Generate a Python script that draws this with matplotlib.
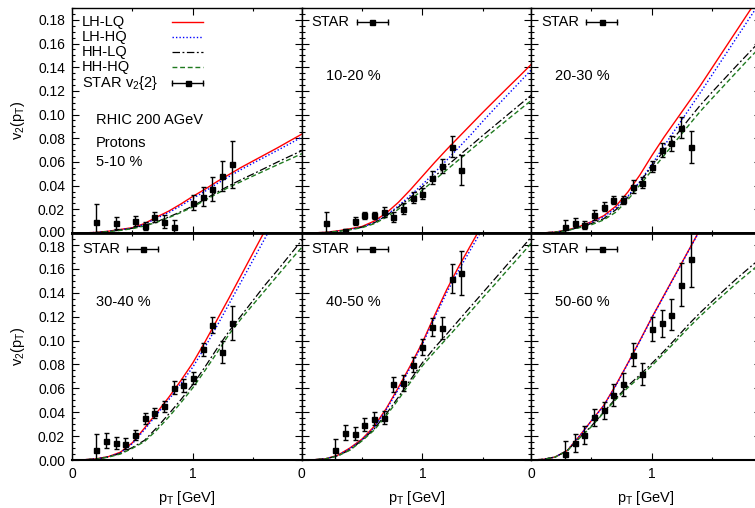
import numpy as np
import matplotlib.pyplot as plt
import matplotlib.transforms as mtransforms

plt.rcParams['font.family'] = ['Liberation Sans', 'DejaVu Sans']
plt.rcParams['font.size'] = 10.5
plt.rcParams['xtick.labelsize'] = 10
plt.rcParams['ytick.labelsize'] = 10
plt.rcParams['mathtext.default'] = 'regular'

# hydro curves, p_T grid [GeV]
pt = [0.0, 0.1, 0.2, 0.3, 0.4, 0.5, 0.6, 0.7, 0.8, 0.9,
      1.0, 1.1, 1.2, 1.3, 1.4, 1.5, 1.6, 1.7, 1.8, 1.9]

# 5-10 %
lhlq_1 = [0, 0.0001, 0.0005, 0.0015, 0.003, 0.0045, 0.008, 0.0135, 0.0185, 0.0245,
          0.031, 0.037, 0.0435, 0.0495, 0.0555, 0.061, 0.0665, 0.072, 0.0778, 0.0835]
lhhq_1 = [0, 0.0001, 0.0005, 0.0014, 0.0028, 0.0042, 0.0074, 0.0125, 0.0173, 0.023,
          0.0293, 0.0353, 0.0418, 0.0478, 0.0537, 0.0592, 0.0645, 0.0699, 0.0754, 0.081]
hhlq_1 = [0, 0.0001, 0.0004, 0.0012, 0.0024, 0.004, 0.0065, 0.0095, 0.0135, 0.018,
          0.0228, 0.0287, 0.0345, 0.040, 0.0452, 0.050, 0.055, 0.060, 0.0648, 0.0695]
hhhq_1 = [0, 0.0001, 0.0004, 0.0011, 0.0022, 0.0037, 0.006, 0.009, 0.013, 0.0173,
          0.022, 0.0278, 0.0333, 0.0388, 0.0435, 0.0483, 0.053, 0.0577, 0.0623, 0.067]
# 10-20 %
lhlq_2 = [0, 0.0001, 0.0006, 0.0018, 0.0035, 0.0055, 0.010, 0.0168, 0.0258, 0.0365,
          0.048, 0.0595, 0.0705, 0.081, 0.0915, 0.102, 0.1122, 0.1223, 0.1323, 0.1425]
lhhq_2 = [0, 0.0001, 0.0005, 0.0015, 0.003, 0.0048, 0.0088, 0.015, 0.0228, 0.0317,
          0.041, 0.051, 0.0615, 0.0722, 0.083, 0.0945, 0.1055, 0.1163, 0.127, 0.1378]
hhlq_2 = [0, 0.0001, 0.0005, 0.0014, 0.003, 0.005, 0.0085, 0.0145, 0.0218, 0.030,
          0.039, 0.0478, 0.0565, 0.0652, 0.0738, 0.0825, 0.091, 0.0995, 0.108, 0.1165]
hhhq_2 = [0, 0.0001, 0.0005, 0.0013, 0.0027, 0.0045, 0.0078, 0.0132, 0.020, 0.028,
          0.0363, 0.0448, 0.0533, 0.0618, 0.0703, 0.0788, 0.0872, 0.0955, 0.1038, 0.112]
# 20-30 %
lhlq_3 = [0, 0.0001, 0.0008, 0.0025, 0.0055, 0.0095, 0.0145, 0.0225, 0.0345, 0.049,
          0.0655, 0.081, 0.0955, 0.110, 0.1245, 0.140, 0.1555, 0.171, 0.1865, 0.202]
lhhq_3 = [0, 0.0001, 0.0007, 0.0023, 0.005, 0.009, 0.0135, 0.021, 0.031, 0.0435,
          0.058, 0.0735, 0.0885, 0.1035, 0.1185, 0.134, 0.1495, 0.165, 0.1805, 0.196]
hhlq_3 = [0, 0.0001, 0.0007, 0.0022, 0.0048, 0.008, 0.012, 0.0195, 0.030, 0.043,
          0.0565, 0.0697, 0.0826, 0.0955, 0.108, 0.1193, 0.1303, 0.1413, 0.152, 0.1628]
hhhq_3 = [0, 0.0001, 0.0007, 0.0021, 0.0045, 0.007, 0.011, 0.0175, 0.028, 0.0405,
          0.053, 0.0655, 0.078, 0.0905, 0.1028, 0.114, 0.125, 0.136, 0.147, 0.1575]
# 30-40 %
lhlq_4 = [0, 0.0002, 0.001, 0.0028, 0.0065, 0.0145, 0.0268, 0.0395, 0.0525, 0.0665,
          0.0815, 0.099, 0.1175, 0.136, 0.155, 0.174, 0.193]
lhhq_4 = [0, 0.0002, 0.001, 0.0027, 0.006, 0.0138, 0.0255, 0.038, 0.0505, 0.064,
          0.078, 0.0945, 0.1125, 0.131, 0.1495, 0.168, 0.1865, 0.205]
hhlq_4 = [0, 0.0002, 0.0008, 0.0025, 0.0055, 0.0105, 0.0165, 0.027, 0.0385, 0.0505,
          0.0633, 0.078, 0.0935, 0.108, 0.121, 0.134, 0.147, 0.159, 0.1715, 0.184]
hhhq_4 = [0, 0.0002, 0.0008, 0.0024, 0.005, 0.0098, 0.0155, 0.025, 0.036, 0.048,
          0.0606, 0.075, 0.090, 0.1055, 0.1185, 0.1305, 0.1425, 0.1545, 0.1665, 0.178]
# 40-50 %
lhlq_5 = [0, 0.0002, 0.001, 0.004, 0.010, 0.0175, 0.028, 0.043, 0.0605, 0.079,
          0.0985, 0.121, 0.1425, 0.162, 0.180, 0.198]
lhhq_5 = [0, 0.0002, 0.001, 0.0038, 0.0095, 0.017, 0.027, 0.042, 0.059, 0.0775,
          0.097, 0.119, 0.140, 0.159, 0.1765, 0.194]
hhlq_5 = [0, 0.0002, 0.001, 0.0035, 0.0085, 0.0165, 0.026, 0.0385, 0.0525, 0.067,
          0.0815, 0.094, 0.1053, 0.117, 0.1286, 0.1402, 0.1518, 0.1635, 0.175, 0.1867]
hhhq_5 = [0, 0.0002, 0.001, 0.0034, 0.0082, 0.016, 0.025, 0.037, 0.0505, 0.065,
          0.079, 0.0905, 0.1017, 0.113, 0.1245, 0.136, 0.1472, 0.1587, 0.170, 0.1815]
# 50-60 %
lhlq_6 = [0, 0.0005, 0.0025, 0.008, 0.020, 0.033, 0.0455, 0.0625, 0.081, 0.100,
          0.1195, 0.138, 0.1565, 0.175, 0.1935]
lhhq_6 = [0, 0.0005, 0.0025, 0.008, 0.0198, 0.0328, 0.0452, 0.062, 0.0805, 0.0995,
          0.119, 0.1375, 0.156, 0.1745, 0.193]
hhlq_6 = [0, 0.0005, 0.0025, 0.0078, 0.0185, 0.0285, 0.040, 0.0515, 0.062, 0.0712,
          0.081, 0.0912, 0.102, 0.1132, 0.1235, 0.133, 0.1425, 0.1518, 0.1605, 0.169]
hhhq_6 = [0, 0.0005, 0.0025, 0.0077, 0.0182, 0.028, 0.0395, 0.0505, 0.0605, 0.0695,
          0.079, 0.0893, 0.0998, 0.1105, 0.1205, 0.130, 0.139, 0.148, 0.1565, 0.165]

# STAR v2{2} protons
star_pt_1 = [0.20, 0.36, 0.52, 0.60, 0.68, 0.76, 0.84, 1.00, 1.08, 1.16, 1.24, 1.32]
star_v2_1 = [0.0096, 0.0082, 0.0104, 0.0059, 0.0135, 0.0096, 0.0053, 0.0256, 0.0307, 0.0372, 0.0484, 0.058]
star_er_1 = [0.015, 0.005, 0.0042, 0.0035, 0.004, 0.0055, 0.0056, 0.0063, 0.0079, 0.0099, 0.0127, 0.020]

star_pt_2 = [0.20, 0.36, 0.44, 0.52, 0.60, 0.68, 0.76, 0.84, 0.92, 1.00, 1.08, 1.16, 1.24, 1.32]
star_v2_2 = [0.0082, 0.0017, 0.0104, 0.0149, 0.0149, 0.0177, 0.0138, 0.0206, 0.0299, 0.033, 0.0468, 0.0566, 0.0729, 0.0535]
star_er_2 = [0.0095, 0.002, 0.0035, 0.0028, 0.0028, 0.004, 0.0042, 0.0049, 0.0049, 0.0046, 0.0053, 0.0062, 0.0087, 0.0127]

star_pt_3 = [0.28, 0.36, 0.44, 0.52, 0.60, 0.68, 0.76, 0.84, 0.92, 1.00, 1.08, 1.16, 1.24, 1.32]
star_v2_3 = [0.0051, 0.0087, 0.0068, 0.0152, 0.0222, 0.0279, 0.0279, 0.0391, 0.0425, 0.056, 0.0701, 0.0758, 0.089, 0.0729]
star_er_3 = [0.006, 0.004, 0.0035, 0.004, 0.0037, 0.0037, 0.0037, 0.0054, 0.0047, 0.0048, 0.0056, 0.0062, 0.0087, 0.0135]

star_pt_4 = [0.20, 0.28, 0.36, 0.44, 0.52, 0.60, 0.68, 0.76, 0.84, 0.92, 1.00, 1.08, 1.16, 1.24, 1.32]
star_v2_4 = [0.0087, 0.0163, 0.0143, 0.0137, 0.0213, 0.0348, 0.0392, 0.0448, 0.0606, 0.0625, 0.0684, 0.0925, 0.113, 0.0903, 0.1144]
star_er_4 = [0.013, 0.006, 0.0049, 0.0045, 0.0042, 0.0045, 0.004, 0.0045, 0.0053, 0.0052, 0.0049, 0.0056, 0.007, 0.0095, 0.0143]

star_pt_5 = [0.28, 0.36, 0.44, 0.52, 0.60, 0.68, 0.76, 0.84, 0.92, 1.00, 1.08, 1.16, 1.24, 1.32]
star_v2_5 = [0.0087, 0.023, 0.0221, 0.0297, 0.0347, 0.0353, 0.0633, 0.0645, 0.0796, 0.0945, 0.1113, 0.1104, 0.1517, 0.1567]
star_er_5 = [0.0087, 0.0063, 0.0056, 0.0053, 0.0052, 0.0053, 0.0063, 0.0066, 0.0062, 0.0066, 0.0076, 0.0092, 0.0122, 0.0182]

star_pt_6 = [0.28, 0.36, 0.44, 0.52, 0.60, 0.68, 0.76, 0.84, 0.92, 1.00, 1.08, 1.16, 1.24, 1.32]
star_v2_6 = [0.0053, 0.0143, 0.021, 0.0356, 0.0415, 0.0544, 0.0633, 0.0883, 0.0718, 0.1096, 0.1144, 0.1214, 0.1466, 0.1685]
star_er_6 = [0.011, 0.0077, 0.0074, 0.0073, 0.0069, 0.0088, 0.0095, 0.0098, 0.0094, 0.0098, 0.0112, 0.013, 0.018, 0.024]

centralities = ['5-10 %', '10-20 %', '20-30 %', '30-40 %', '40-50 %', '50-60 %']
model_names = ['LH-LQ', 'LH-HQ', 'HH-LQ', 'HH-HQ']

models = [
    [lhlq_1, lhhq_1, hhlq_1, hhhq_1],
    [lhlq_2, lhhq_2, hhlq_2, hhhq_2],
    [lhlq_3, lhhq_3, hhlq_3, hhhq_3],
    [lhlq_4, lhhq_4, hhlq_4, hhhq_4],
    [lhlq_5, lhhq_5, hhlq_5, hhhq_5],
    [lhlq_6, lhhq_6, hhlq_6, hhhq_6],
]
star = [
    (star_pt_1, star_v2_1, star_er_1),
    (star_pt_2, star_v2_2, star_er_2),
    (star_pt_3, star_v2_3, star_er_3),
    (star_pt_4, star_v2_4, star_er_4),
    (star_pt_5, star_v2_5, star_er_5),
    (star_pt_6, star_v2_6, star_er_6),
]

styles = [
    dict(color='#ff0000', ls='-', lw=1.0),
    dict(color='#0000ff', ls=(0, (1, 1.5)), lw=1.0),
    dict(color='black', ls=(0, (6, 2, 1.5, 2)), lw=0.9),
    dict(color='#1f7a1f', ls=(0, (3.5, 2)), lw=1.0),
]

W, H = 755, 508
fig = plt.figure(figsize=(W / 100, H / 100), dpi=100)

col_x = [72, 301.5, 531]
rows = [(275, 225), (48, 227)]
pw = 229.5

axes = []
for r, (b, h) in enumerate(rows):
    for c, x in enumerate(col_x):
        ax = fig.add_axes([x / W, b / H, pw / W, h / H])
        axes.append(ax)


def star_key(ax, y, text):
    ax.text(0.044, y, text, transform=ax.transAxes, va='center', ha='left')
    ax.plot([0.24, 0.376], [y, y], color='black', lw=1.0, marker='|', ms=5,
            transform=ax.transAxes, clip_on=False)
    ax.plot([0.308], [y], 's', color='black', ms=3.6, transform=ax.transAxes)


for i, ax in enumerate(axes):
    top = i < 3
    left = i % 3 == 0

    for vals, st in zip(models[i], styles):
        ax.plot(pt[:len(vals)], vals, **st)

    spt, sv2, ser = star[i]
    ax.errorbar(spt, sv2, yerr=ser, fmt='s', color='black', ms=3.6,
                elinewidth=1.0, capsize=1.8, capthick=1.0, zorder=5)

    ax.set_xlim(0, 1.897)
    ax.set_ylim(0, 0.19)
    ax.set_xticks([0, 1])
    ax.set_xticks([0.5, 1.5], minor=True)
    ax.set_yticks(np.arange(10) * 0.02)
    ax.set_yticks(np.arange(39) * 0.005, minor=True)
    ax.tick_params(which='both', direction='in', top=True, right=True, width=0.8)
    ax.tick_params(which='major', length=5, pad=5)
    ax.tick_params(which='minor', length=2.5)
    for s in ax.spines.values():
        s.set_linewidth(1.0)

    if left:
        ax.set_yticklabels(['%.2f' % v for v in np.arange(10) * 0.02])
        ax.set_ylabel('v$_2$(p$_T$)', labelpad=8)
        # keep 0.00 (upper row) and 0.18 (lower row) apart at the seam
        labs = ax.get_yticklabels()
        if top:
            lab, dy = labs[0], 1.8
        else:
            lab, dy = labs[-1], -1.8
        lab.set_transform(lab.get_transform() +
                          mtransforms.ScaledTranslation(0, dy / 100, fig.dpi_scale_trans))
    else:
        ax.set_yticklabels([])
    if top:
        ax.set_xticklabels([])
        ax.spines['bottom'].set_linewidth(2.0)
    else:
        ax.set_xticklabels(['0', '1'])
        ax.set_xlabel('p$_T$ [GeV]', labelpad=6)
        ax.spines['top'].set_linewidth(2.0)
        ax.spines['bottom'].set_linewidth(1.5)

    if i == 0:
        ys = [0.938, 0.870, 0.803, 0.736]
        for y, name, st in zip(ys, model_names, styles):
            ax.text(0.044, y, name, transform=ax.transAxes, va='center', ha='left')
            ax.plot([0.436, 0.571], [y, y], transform=ax.transAxes, **st)
        y = 0.668
        ax.text(0.044, y, 'STAR v$_2${2}', transform=ax.transAxes, va='center', ha='left')
        ax.plot([0.436, 0.571], [y, y], color='black', lw=1.0, marker='|', ms=5,
                transform=ax.transAxes)
        ax.plot([0.5035], [y], 's', color='black', ms=3.6, transform=ax.transAxes)
        ax.text(0.105, 0.502, 'RHIC 200 AGeV', transform=ax.transAxes, va='center')
        ax.text(0.105, 0.40, 'Protons', transform=ax.transAxes, va='center')
        ax.text(0.105, 0.316, centralities[i], transform=ax.transAxes, va='center')
    else:
        star_key(ax, 0.938 if top else 0.93, 'STAR')
        ax.text(0.105, 0.698 if top else 0.696, centralities[i],
                transform=ax.transAxes, va='center')

fig.savefig('out.png', dpi=100)
